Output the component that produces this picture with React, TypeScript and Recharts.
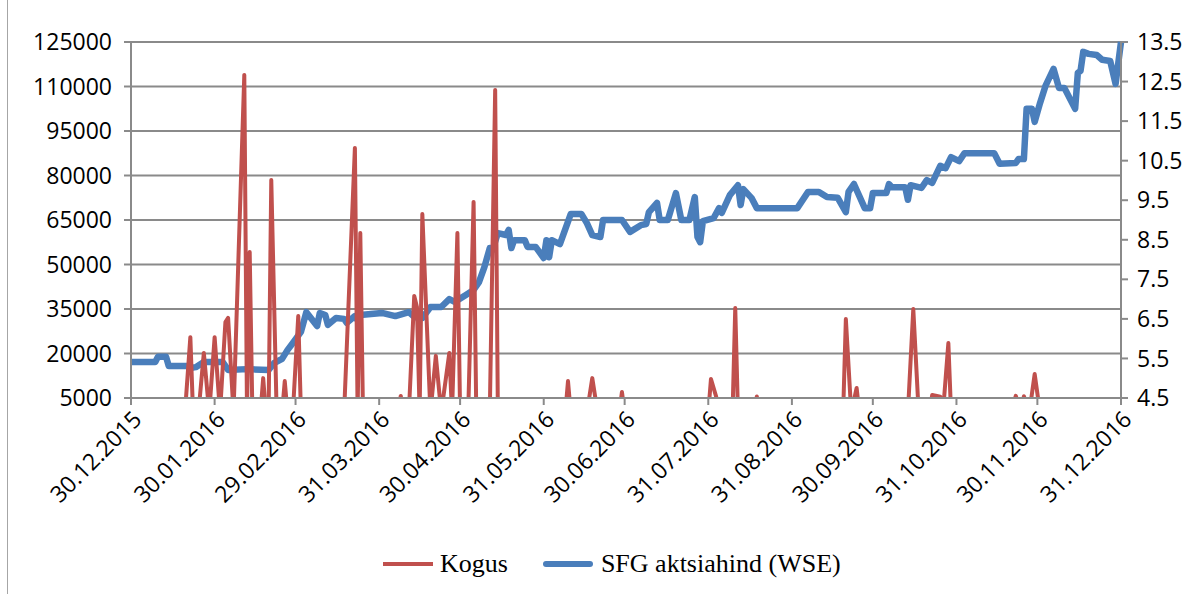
import React from "react";
import {
  LineChart,
  Line,
  XAxis,
  YAxis,
  CartesianGrid,
  Legend,
} from "recharts";

// x-axis tick labels (monthly)
const tickLabels = [
  "30.12.2015", "30.01.2016", "29.02.2016", "31.03.2016", "30.04.2016",
  "31.05.2016", "30.06.2016", "31.07.2016", "31.08.2016", "30.09.2016",
  "31.10.2016", "30.11.2016", "31.12.2016",
];

// SFG share price (WSE): day offset from 30.12.2015 and price
const priceDays = [
  0, 9, 10, 13, 14, 21, 22, 24, 27, 34,
  36, 43, 51, 53, 56, 58, 60, 63, 65, 69,
  70, 72, 73, 76, 79, 80, 83, 84, 85, 93,
  98, 103, 105, 108, 111, 115, 118, 120, 124, 127,
  129, 131, 133, 134, 136, 139, 140, 141, 142, 146,
  147, 150, 153, 154, 155, 156, 159, 163, 167, 169,
  171, 174, 175, 182, 185, 189, 191, 192, 195, 196,
  199, 202, 204, 207, 209, 210, 211, 212, 216, 218,
  219, 222, 225, 226, 227, 230, 232, 247, 251, 255,
  258, 262, 265, 266, 268, 272, 274, 275, 280, 281,
  282, 287, 288, 289, 293, 295, 297, 300, 302, 304,
  307, 309, 320, 322, 328, 329, 331, 332, 334, 335,
  337, 339, 342, 344, 346, 350, 351, 352, 353, 355,
  358, 360, 363, 365, 367,
];
const priceValues = [
  5.41, 5.41, 5.54, 5.54, 5.31, 5.31, 5.26, 5.28, 5.41, 5.41,
  5.21, 5.23, 5.21, 5.38, 5.49, 5.71, 5.89, 6.17, 6.67, 6.32,
  6.65, 6.6, 6.35, 6.52, 6.5, 6.4, 6.57, 6.47, 6.6, 6.65,
  6.57, 6.67, 6.55, 6.52, 6.8, 6.8, 7.0, 6.93, 7.1, 7.23,
  7.43, 7.81, 8.29, 8.24, 8.67, 8.62, 8.75, 8.29, 8.49, 8.49,
  8.32, 8.32, 8.04, 8.49, 8.06, 8.49, 8.39, 9.15, 9.15, 8.92,
  8.62, 8.57, 9.0, 9.0, 8.7, 8.87, 8.9, 9.2, 9.43, 9.0,
  9.0, 9.68, 9.0, 9.0, 9.58, 8.57, 8.44, 8.97, 9.05, 9.3,
  9.18, 9.63, 9.88, 9.38, 9.78, 9.56, 9.3, 9.3, 9.71, 9.71,
  9.58, 9.56, 9.2, 9.71, 9.91, 9.3, 9.3, 9.68, 9.68, 9.91,
  9.83, 9.83, 9.51, 9.88, 9.81, 10.01, 9.94, 10.37, 10.31, 10.59,
  10.49, 10.69, 10.69, 10.42, 10.44, 10.54, 10.54, 11.81, 11.81, 11.48,
  11.96, 12.39, 12.82, 12.34, 12.34, 11.81, 12.72, 12.77, 13.25, 13.2,
  13.17, 13.05, 13.02, 12.44, 13.5,
];

// Kogus (volume): day offset and quantity
const volumeDays = [
  0, 20, 22, 23, 25, 27, 29, 31, 33, 35,
  36, 38, 42, 43, 44, 45, 48, 49, 50, 51,
  52, 54, 56, 57, 58, 60, 62, 63, 79, 83,
  84, 85, 86, 99, 100, 101, 103, 105, 106, 107,
  108, 111, 113, 115, 118, 119, 121, 122, 125, 127,
  128, 133, 135, 136, 161, 162, 163, 169, 171, 173,
  181, 182, 183, 214, 215, 217, 219, 223, 224, 225,
  231, 232, 233, 264, 265, 267, 269, 270, 288, 290,
  292, 296, 297, 300, 301, 303, 304, 326, 328, 330,
  331, 333, 335, 337, 367,
];
const volumeValues = [
  0, 0, 25500, 0, 0, 20200, 0, 25500, 0, 30600,
  32000, 0, 113900, 0, 54200, 0, 0, 11700, 0, 0,
  78500, 0, 0, 10700, 0, 0, 32600, 0, 0, 89300,
  0, 60600, 0, 0, 5700, 0, 0, 39400, 35700, 0,
  67000, 0, 19200, 0, 20200, 0, 60600, 0, 0, 71100,
  0, 0, 108800, 0, 0, 10700, 0, 0, 11700, 0,
  0, 7000, 0, 0, 11400, 5200, 0, 0, 35300, 0,
  0, 5500, 0, 0, 31600, 0, 8400, 0, 0, 35000,
  0, 0, 6000, 5400, 0, 23500, 0, 0, 5700, 0,
  5600, 0, 13100, 0, 0,
];

const volumeTicks = [5000, 20000, 35000, 50000, 65000, 80000, 95000, 110000, 125000];
const priceTicks = [4.5, 5.5, 6.5, 7.5, 8.5, 9.5, 10.5, 11.5, 12.5, 13.5];

const START = Date.UTC(2015, 11, 30);
const toDay = (label: string) => {
  const [d, m, y] = label.split(".").map(Number);
  return Math.round((Date.UTC(y, m - 1, d) - START) / 86400000);
};
const tickDays = tickLabels.map(toDay);

const priceData = priceDays.map((day, i) => ({ day, price: priceValues[i] }));
const volumeData = volumeDays.map((day, i) => ({ day, volume: volumeValues[i] }));

const GRID = "#8a8a8a";
const RED = "#c0504d";
const BLUE = "#4a7ebb";
const AXIS_FONT = '"Open Sans", sans-serif';

const DateTick = (props: any) => {
  const { x, y, payload } = props;
  const idx = tickDays.indexOf(payload.value);
  return (
    <g transform={`translate(${x + 12},${y + 14}) rotate(-45)`}>
      <text x={0} y={0} textAnchor="end" fill="#000" fontSize={23} fontFamily={AXIS_FONT}>
        {idx >= 0 ? tickLabels[idx] : ""}
      </text>
    </g>
  );
};

const LegendContent = () => (
  <div
    style={{
      height: 60,
      display: "flex",
      alignItems: "center",
      paddingLeft: 383,
      fontFamily: '"Liberation Serif", "Times New Roman", serif',
      fontSize: 26,
      color: "#000",
    }}
  >
    <span style={{ display: "inline-block", width: 50, height: 4, background: RED, marginRight: 7 }} />
    <span style={{ marginRight: 35 }}>Kogus</span>
    <span style={{ display: "inline-block", width: 50, height: 6, background: BLUE, borderRadius: 3, marginRight: 8 }} />
    <span>SFG aktsiahind (WSE)</span>
  </div>
);

const App = () => {
  return (
    <div
      style={{
        position: "absolute",
        left: 0,
        top: 0,
        width: 1199,
        height: 594,
        background: "#fff",
        overflow: "hidden",
      }}
    >
      <div style={{ position: "absolute", left: 7, top: 0, width: 1, height: 594, background: "#a6a6a6" }} />
      <LineChart
        width={1199}
        height={594}
        margin={{ top: 42, right: 0, bottom: 0, left: 0 }}
      >
        <CartesianGrid yAxisId="left" vertical={false} stroke={GRID} strokeWidth={2} />
        <XAxis
          dataKey="day"
          type="number"
          domain={[0, 367]}
          ticks={tickDays}
          interval={0}
          height={136}
          tick={<DateTick />}
          stroke={GRID}
          strokeWidth={2}
          tickSize={7}
          allowDuplicatedCategory={false}
        />
        <YAxis
          yAxisId="left"
          domain={[5000, 125000]}
          ticks={volumeTicks}
          allowDataOverflow
          width={131}
          stroke={GRID}
          strokeWidth={2}
          tickSize={7}
          tickMargin={12}
          tick={{ fill: "#000", fontSize: 23, fontFamily: AXIS_FONT }}
        />
        <YAxis
          yAxisId="right"
          orientation="right"
          domain={[4.5, 13.5]}
          ticks={priceTicks}
          width={78}
          stroke={GRID}
          strokeWidth={2}
          tickSize={7}
          tickMargin={9}
          tickFormatter={(v: number) => v.toFixed(1)}
          tick={{ fill: "#000", fontSize: 23, fontFamily: AXIS_FONT }}
        />
        <Legend verticalAlign="bottom" height={60} content={<LegendContent />} />
        <Line
          yAxisId="right"
          data={priceData}
          dataKey="price"
          name="SFG aktsiahind (WSE)"
          stroke={BLUE}
          strokeWidth={6.5}
          strokeLinejoin="round"
          dot={false}
          isAnimationActive={false}
        />
        <Line
          yAxisId="left"
          data={volumeData}
          dataKey="volume"
          name="Kogus"
          stroke={RED}
          strokeWidth={4}
          strokeLinejoin="round"
          dot={false}
          isAnimationActive={false}
        />
      </LineChart>
    </div>
  );
};

export default App;
